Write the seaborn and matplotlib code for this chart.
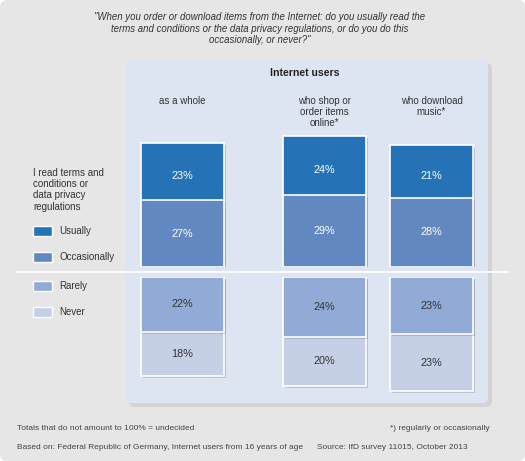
import matplotlib
matplotlib.use("Agg")
import matplotlib.pyplot as plt
import matplotlib.patheffects as pe
from matplotlib.patches import FancyBboxPatch, Rectangle
import pandas as pd
import seaborn as sns

# ==============================
# 1. Data
# ==============================
groups = ["as a whole", "who shop or\norder items\nonline*", "who download\nmusic*"]
usually = [23, 24, 21]
occasionally = [27, 29, 28]
rarely = [22, 24, 23]
never = [18, 20, 23]
series_names = ["Usually", "Occasionally", "Rarely", "Never"]

title = ('"When you order or download items from the Internet: do you usually read the\n'
         'terms and conditions or the data privacy regulations, or do you do this\n'
         'occasionally, or never?"')
legend_head = "I read terms and\nconditions or\ndata privacy\nregulations"

# layout (pixels of a 525 x 461 canvas)
W, H = 525, 461
bar_centers = [182.5, 324.5, 431.5]
bar_w = 83
px_per_pct = 2.48

c_usually = "#2573b6"
c_occ = "#6288c2"
c_rarely = "#92abd6"
c_never = "#c5d0e7"
c_panel = "#dee5f2"
c_bg = "#e6e6e6"
c_text = "#333333"

df = pd.DataFrame({"group": groups, "pos": bar_centers,
                   "usually": usually, "occasionally": occasionally,
                   "rarely": rarely, "never": never})
df["upper"] = df["usually"] + df["occasionally"]
df["lower"] = df["rarely"] + df["never"]

sns.set_style("white")
plt.rcParams["font.family"] = ["Liberation Sans", "DejaVu Sans"]

fig = plt.figure(figsize=(W / 100, H / 100), dpi=100)
fig.patch.set_facecolor("white")


def fx(x):
    return x / W


def fy(y):
    return 1 - y / H


def box(x0, y0, x1, y1, **kw):
    # rounded box in pixel coords (top-left origin)
    return FancyBboxPatch((x0 / 100, (H - y1) / 100), (x1 - x0) / 100, (y1 - y0) / 100,
                          transform=fig.dpi_scale_trans, **kw)


# background and panel
fig.patches.append(box(0, 0, W, H, boxstyle="round,pad=0,rounding_size=0.07",
                       facecolor=c_bg, edgecolor="none", zorder=0))
fig.patches.append(box(129, 63, 492, 407, boxstyle="round,pad=0,rounding_size=0.06",
                       facecolor="#cccccc", edgecolor="none", alpha=0.7, zorder=1))
fig.patches.append(box(126, 60, 488, 403, boxstyle="round,pad=0,rounding_size=0.06",
                       facecolor=c_panel, edgecolor="none", zorder=2))

# ==============================
# 2. Bars (upper = read, lower = don't read)
# ==============================
base_y = 272
gap = 5
up_max, low_max = 60, 50
ax_up = fig.add_axes([0, fy(base_y - gap), 1, up_max * px_per_pct / H], zorder=5)
ax_lo = fig.add_axes([0, fy(base_y + gap + low_max * px_per_pct), 1, low_max * px_per_pct / H],
                     zorder=5)

width = bar_w / min(b - a for a, b in zip(bar_centers[:-1], bar_centers[1:]))
shadow = [pe.SimplePatchShadow(offset=(1.5, -1.5), shadow_rgbFace="#7a8294", alpha=0.35), pe.Normal()]

for ax, layers in [(ax_up, [("upper", c_usually), ("occasionally", c_occ)]),
                   (ax_lo, [("lower", c_never), ("rarely", c_rarely)])]:
    for col, color in layers:
        sns.barplot(data=df, x="pos", y=col, native_scale=True, orient="x", width=width,
                    color=color, edgecolor="white", linewidth=1.2, saturation=1, ax=ax)
    for p in ax.patches:
        p.set_path_effects(shadow)
    ax.set_xlim(0, W)
    ax.axis("off")
    ax.patch.set_alpha(0)

ax_up.set_ylim(0, up_max)
ax_lo.set_ylim(low_max, 0)

for i, r in df.iterrows():
    ax_up.text(r["pos"], r["occasionally"] + r["usually"] * 0.42, f"{r['usually']}%",
               ha="center", va="center", color="white", fontsize=7.8)
    ax_up.text(r["pos"], r["occasionally"] / 2, f"{r['occasionally']}%",
               ha="center", va="center", color="white", fontsize=7.8)
    ax_lo.text(r["pos"], r["rarely"] / 2, f"{r['rarely']}%",
               ha="center", va="center", color=c_text, fontsize=7.8)
    ax_lo.text(r["pos"], r["rarely"] + r["never"] / 2, f"{r['never']}%",
               ha="center", va="center", color=c_text, fontsize=7.8)

# separator line
fig.add_artist(plt.Line2D([fx(17), fx(508)], [fy(base_y), fy(base_y)],
                          color="white", lw=1.3, zorder=3))

# ==============================
# 3. Texts
# ==============================
fig.text(fx(260), fy(12), title, ha="center", va="top", style="italic",
         fontsize=6.9, color=c_text, linespacing=1.2)
fig.text(fx(305), fy(73), "Internet users", ha="center", va="center",
         fontweight="bold", fontsize=7.6, color="#222222")
for g, x in zip(groups, bar_centers):
    fig.text(fx(x), fy(96), g, ha="center", va="top", fontsize=7, color=c_text,
             linespacing=1.15)

fig.text(fx(33), fy(168), legend_head, ha="left", va="top", fontsize=7,
         color=c_text, linespacing=1.15)
legend_y = [231, 257, 286, 312]
for name, color, y in zip(series_names, [c_usually, c_occ, c_rarely, c_never], legend_y):
    fig.patches.append(Rectangle((33 / 100, (H - y - 5) / 100), 19 / 100, 10 / 100,
                                 transform=fig.dpi_scale_trans, facecolor=color,
                                 edgecolor="white", lw=1, zorder=4))
    fig.text(fx(59), fy(y), name, ha="left", va="center", fontsize=7, color=c_text)

fig.text(fx(17), fy(428), "Totals that do not amount to 100% = undecided",
         ha="left", va="center", fontsize=6.0, color="#444444")
fig.text(fx(490), fy(428), "*) regularly or occasionally",
         ha="right", va="center", fontsize=6.0, color="#444444")
fig.text(fx(17), fy(447), "Based on: Federal Republic of Germany, Internet users from 16 years of age",
         ha="left", va="center", fontsize=6.0, color="#444444")
fig.text(fx(317), fy(447), "Source: IfD survey 11015, October 2013",
         ha="left", va="center", fontsize=6.0, color="#444444")

plt.savefig("out.png", dpi=100, facecolor=fig.get_facecolor())
plt.close()
